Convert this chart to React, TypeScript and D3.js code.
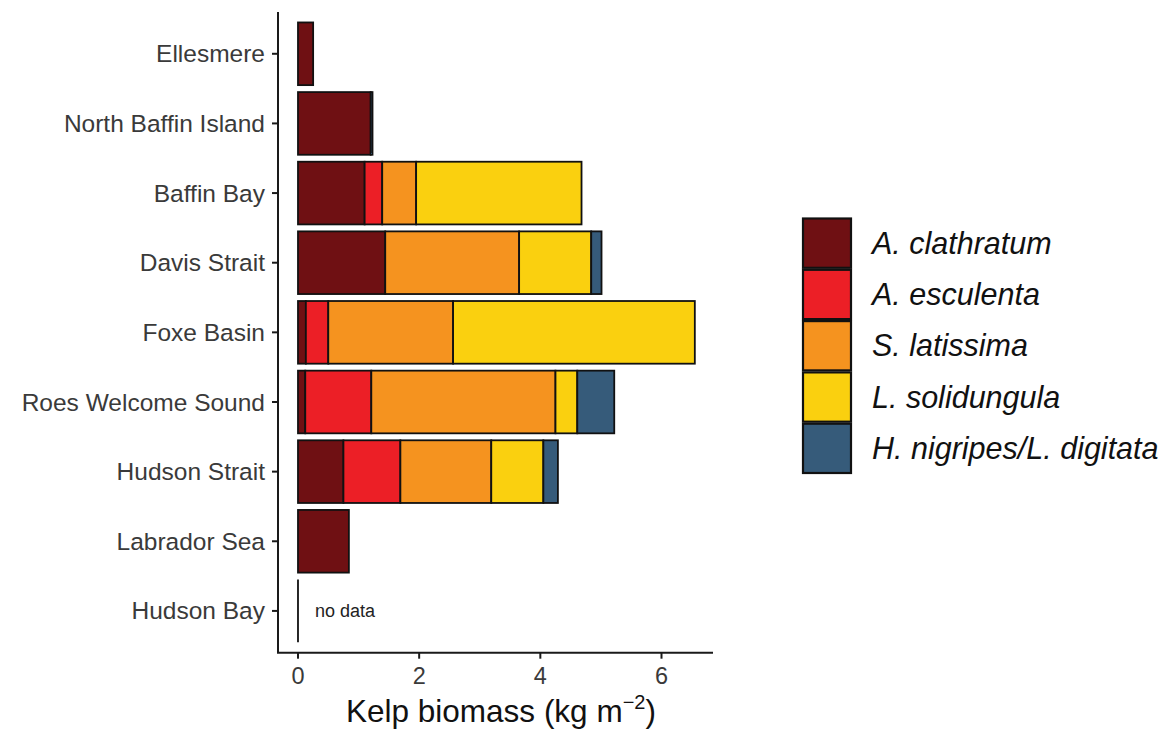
import * as d3 from 'd3';

const regions = [
  'Ellesmere',
  'North Baffin Island',
  'Baffin Bay',
  'Davis Strait',
  'Foxe Basin',
  'Roes Welcome Sound',
  'Hudson Strait',
  'Labrador Sea',
  'Hudson Bay',
];

const species = [
  'A. clathratum',
  'A. esculenta',
  'S. latissima',
  'L. solidungula',
  'H. nigripes/L. digitata',
];

const colors = ['#6f1013', '#ec1f26', '#f5931f', '#fad00f', '#365b7a'];

// biomass per species, in the order of regions
const aClathratum = [0.25, 1.2, 1.1, 1.44, 0.13, 0.12, 0.75, 0.84, 0];
const aEsculenta = [0, 0, 0.29, 0, 0.37, 1.09, 0.94, 0, 0];
const sLatissima = [0, 0, 0.56, 2.21, 2.06, 3.04, 1.5, 0, 0];
const lSolidungula = [0, 0, 2.73, 1.19, 3.99, 0.36, 0.86, 0, 0];
const hNigripes = [0, 0.03, 0, 0.17, 0, 0.61, 0.24, 0, 0];

const xTicks = [0, 2, 4, 6];

const W = 1166;
const H = 733;

export default function App() {
  const series = [aClathratum, aEsculenta, sLatissima, lSolidungula, hNigripes];

  const x = d3.scaleLinear().domain([-0.33, 6.85]).range([278, 713]);
  const y = d3.scalePoint<string>().domain(regions).range([12, 652.7]).padding(0.6);
  const step = y.step();
  const barH = step * 0.9;

  const rows = regions.map((r, i) => {
    const o: any = { region: r };
    species.forEach((s, j) => (o[s] = series[j][i]));
    return o;
  });
  const stacked = d3.stack<any>().keys(species)(rows);

  const axisColor = '#1a1a1a';
  const textColor = '#3a3a3a';
  const font = 'Liberation Sans, Arial, sans-serif';

  return (
    <svg
      width={W}
      height={H}
      style={{ position: 'absolute', left: 0, top: 0, background: '#fff' }}
      fontFamily={font}
    >
      {/* bars */}
      {stacked.map((layer, j) => (
        <g key={species[j]}>
          {layer.map((d, i) => {
            const w = x(d[1]) - x(d[0]);
            if (w <= 0) return null;
            return (
              <rect
                key={i}
                x={x(d[0])}
                y={(y(regions[i]) as number) - barH / 2}
                width={w}
                height={barH}
                fill={colors[j]}
                stroke="#111"
                strokeWidth={1.8}
              />
            );
          })}
        </g>
      ))}

      {/* regions without data */}
      {rows
        .filter(r => species.every(s => r[s] === 0))
        .map(r => (
          <g key={r.region}>
            <line
              x1={x(0)}
              x2={x(0)}
              y1={(y(r.region) as number) - barH / 2}
              y2={(y(r.region) as number) + barH / 2}
              stroke="#111"
              strokeWidth={1.8}
            />
            <text
              x={x(0) + 17}
              y={(y(r.region) as number) + 6.5}
              fontSize={18}
              fill="#222"
            >
              no data
            </text>
          </g>
        ))}

      {/* y axis */}
      <line x1={278} x2={278} y1={12} y2={652.7} stroke={axisColor} strokeWidth={2} />
      {regions.map(r => (
        <g key={r} transform={`translate(0,${y(r)})`}>
          <line x1={272} x2={278} stroke={axisColor} strokeWidth={2} />
          <text x={265} dy="0.35em" textAnchor="end" fontSize={24.5} fill={textColor}>
            {r}
          </text>
        </g>
      ))}

      {/* x axis */}
      <line x1={277} x2={713} y1={652.7} y2={652.7} stroke={axisColor} strokeWidth={2} />
      {xTicks.map(t => (
        <g key={t} transform={`translate(${x(t)},652.7)`}>
          <line y1={0} y2={6} stroke={axisColor} strokeWidth={2} />
          <text y={31} textAnchor="middle" fontSize={23.5} fill={textColor}>
            {t}
          </text>
        </g>
      ))}
      <text x={501} y={722} textAnchor="middle" fontSize={31.5} fill="#111">
        Kelp biomass (kg m
        <tspan dy={-13} fontSize={20}>−2</tspan>
        <tspan dy={13}>)</tspan>
      </text>

      {/* legend */}
      {species.map((s, j) => {
        const ky = 217.5 + j * 51.3;
        return (
          <g key={s}>
            <rect
              x={803}
              y={ky + 1}
              width={48}
              height={49.3}
              fill={colors[j]}
              stroke="#111"
              strokeWidth={2.2}
            />
            <text
              x={872}
              y={ky + 25.6}
              dy="0.35em"
              fontSize={30.5}
              fontStyle="italic"
              fill="#111"
            >
              {s}
            </text>
          </g>
        );
      })}
    </svg>
  );
}
